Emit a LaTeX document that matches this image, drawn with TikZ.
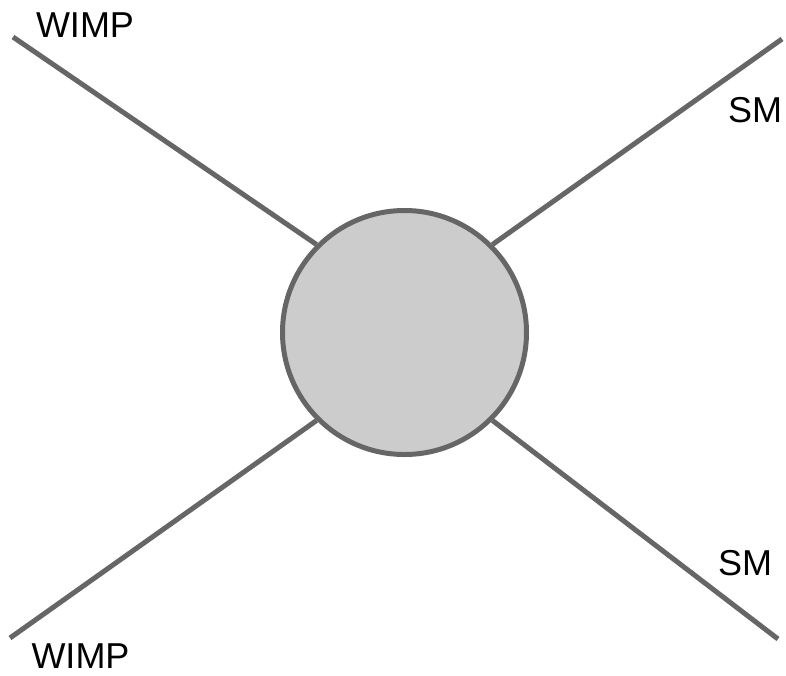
\documentclass[tikz,border=0pt]{standalone}
\usepackage{fontspec}
\setmainfont{Liberation Sans}
\definecolor{linegray}{HTML}{666666}
\definecolor{blobgray}{HTML}{CCCCCC}
\begin{document}
\begin{tikzpicture}[x=1pt,y=-1pt,
  leg/.style={draw=linegray,line width=5pt},
  blob/.style={circle,draw=linegray,fill=blobgray,line width=5pt,minimum size=244pt,inner sep=0pt},
  lbl/.style={anchor=base,inner sep=0pt,font=\fontsize{36}{43}\selectfont}]
\useasboundingbox (0,0) rectangle (786,675);
\node[blob] (c) at (404.5,332.5) {};
\coordinate (tl) at (13,37);
\coordinate (tr) at (782,39);
\coordinate (bl) at (10,638);
\coordinate (br) at (778,639);
\draw[leg] (tl) -- (c.north west);
\draw[leg] (tr) -- (c.north east);
\draw[leg] (bl) -- (c.south west);
\draw[leg] (br) -- (c.south east);
\node[lbl] (w1) at (85,37) {WIMP};
\node[lbl] (w2) at (80.5,668) {WIMP};
\node[lbl] (s1) at (755,122) {SM};
\node[lbl] (s2) at (745,575) {SM};
\end{tikzpicture}
\end{document}
